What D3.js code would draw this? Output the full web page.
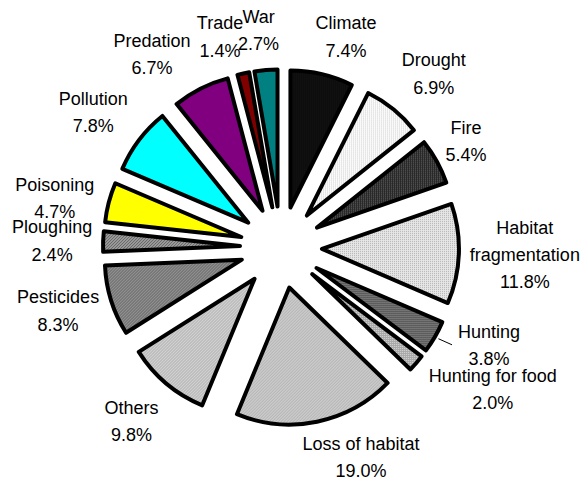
<!DOCTYPE html>
<html>
<head>
<meta charset="utf-8">
<script src="https://cdn.jsdelivr.net/npm/d3@7"></script>
<style>
  html, body { margin: 0; padding: 0; background: #fff; }
  svg { display: block; }
  text { font-family: "Liberation Sans", Arial, sans-serif; font-size: 18px; fill: #000; }
</style>
</head>
<body>
<svg id="chart" width="583" height="482"></svg>
<script>
// Causes, in clockwise order from 12 o'clock
const categories = [
  "Climate", "Drought", "Fire", "Habitat fragmentation", "Hunting",
  "Hunting for food", "Loss of habitat", "Others", "Pesticides", "Ploughing",
  "Poisoning", "Pollution", "Predation", "Trade", "War"
];
// Share of each cause, percent
const values = [7.4, 6.9, 5.4, 11.8, 3.8, 2.0, 19.0, 9.8, 8.3, 2.4, 4.7, 7.8, 6.7, 1.4, 2.7];
// Label lines (the long one wraps onto two lines)
const labelLines = [
  ["Climate"], ["Drought"], ["Fire"], ["Habitat", "fragmentation"], ["Hunting"],
  ["Hunting for food"], ["Loss of habitat"], ["Others"], ["Pesticides"], ["Ploughing"],
  ["Poisoning"], ["Pollution"], ["Predation"], ["Trade"], ["War"]
];

// Slice fills: [kind, background, foreground]
const fills = [
  ["dots", "#000000", "#3a3a3a"],
  ["dots", "#ffffff", "#c4c4c4"],
  ["dots", "#262626", "#6a6a6a"],
  ["dots", "#e6e6e6", "#b4b4b4"],
  ["dots", "#5c5c5c", "#8c8c8c"],
  ["dots", "#a8a8a8", "#d8d8d8"],
  ["hatch", "#d2d2d2", "#a2a2a2"],
  ["hatch", "#d4d4d4", "#a6a6a6"],
  ["hatch", "#929292", "#5e5e5e"],
  ["hatch", "#9a9a9a", "#666666"],
  ["solid", "#ffff00"],
  ["solid", "#00ffff"],
  ["solid", "#800080"],
  ["solid", "#800000"],
  ["solid", "#008080"]
];
// Label nudges away from the default radial spot
const labelNudge = [
  [14, 5], [13, -1.5], [-9.5, 0.6], [22, -1], [16, -14],
  [43, -2.6], [35, -8], [-6.5, 4], [-11, -3], [-7, 0.5],
  [-11.5, 7], [-10.7, -1.4], [-29, 5], [-14, 6], [-3.6, 4]
];

const cx = 281, cy = 247.4;
const radius = 137, explode = 41, labelRadius = 222, lineGap = 27.3;

const svg = d3.select("#chart");
const defs = svg.append("defs");

fills.forEach((f, i) => {
  if (f[0] === "solid") return;
  const p = defs.append("pattern")
    .attr("id", "fill" + i)
    .attr("patternUnits", "userSpaceOnUse");
  if (f[0] === "dots") {
    p.attr("width", 2).attr("height", 2);
    p.append("rect").attr("width", 2).attr("height", 2).attr("fill", f[1]);
    p.append("rect").attr("width", 1).attr("height", 1).attr("fill", f[2]);
  } else {
    p.attr("width", 3).attr("height", 3);
    p.append("rect").attr("width", 3).attr("height", 3).attr("fill", f[1]);
    [0, 1, 2].forEach(k => p.append("rect")
      .attr("x", k).attr("y", 2 - k).attr("width", 1).attr("height", 1).attr("fill", f[2]));
  }
});
const fillOf = i => fills[i][0] === "solid" ? fills[i][1] : `url(#fill${i})`;

const data = categories.map((c, i) => ({ name: c, value: values[i], i }));
const pie = d3.pie().sort(null).value(d => d.value).startAngle(0).endAngle(2 * Math.PI);
const arcs = pie(data);
const arc = d3.arc().innerRadius(0).outerRadius(radius);

const midAngle = a => (a.startAngle + a.endAngle) / 2;
const dir = a => [Math.sin(midAngle(a)), -Math.cos(midAngle(a))];

const g = svg.append("g").attr("transform", `translate(${cx},${cy})`);

g.selectAll("path.slice")
  .data(arcs)
  .join("path")
  .attr("class", "slice")
  .attr("transform", a => {
    const [ux, uy] = dir(a);
    return `translate(${ux * explode},${uy * explode})`;
  })
  .attr("d", arc)
  .attr("fill", a => fillOf(a.data.i))
  .attr("stroke", "#000")
  .attr("stroke-width", 4)
  .attr("stroke-linejoin", "round");

// Labels: name lines plus percentage, stacked and centred
const labels = g.selectAll("g.label")
  .data(arcs)
  .join("g")
  .attr("class", "label")
  .attr("transform", a => {
    const [ux, uy] = dir(a);
    const n = labelNudge[a.data.i];
    return `translate(${ux * labelRadius + n[0]},${uy * labelRadius + n[1]})`;
  });

labels.each(function (a) {
  const lines = labelLines[a.data.i].concat([a.data.value.toFixed(1) + "%"]);
  const top = -(lines.length - 1) * lineGap / 2;
  d3.select(this).selectAll("text")
    .data(lines)
    .join("text")
    .attr("text-anchor", "middle")
    .attr("x", 0)
    .attr("y", (t, k) => top + k * lineGap + 6.5)
    .text(t => t);
});

// Leader line for the Hunting label
const hunt = arcs[4];
const [hx, hy] = dir(hunt);
const huntLabel = labels.filter(a => a.data.i === 4);
const huntText = huntLabel.select("text").node();
const huntW = huntText.getComputedTextLength();
const n4 = labelNudge[4];
const lx = hx * labelRadius + n4[0] - huntW / 2 - 6;
const ly = hy * labelRadius + n4[1];
g.append("line")
  .attr("x1", hx * (explode + radius + 4))
  .attr("y1", hy * (explode + radius + 4))
  .attr("x2", lx)
  .attr("y2", ly)
  .attr("stroke", "#000")
  .attr("stroke-width", 1);
</script>
</body>
</html>
